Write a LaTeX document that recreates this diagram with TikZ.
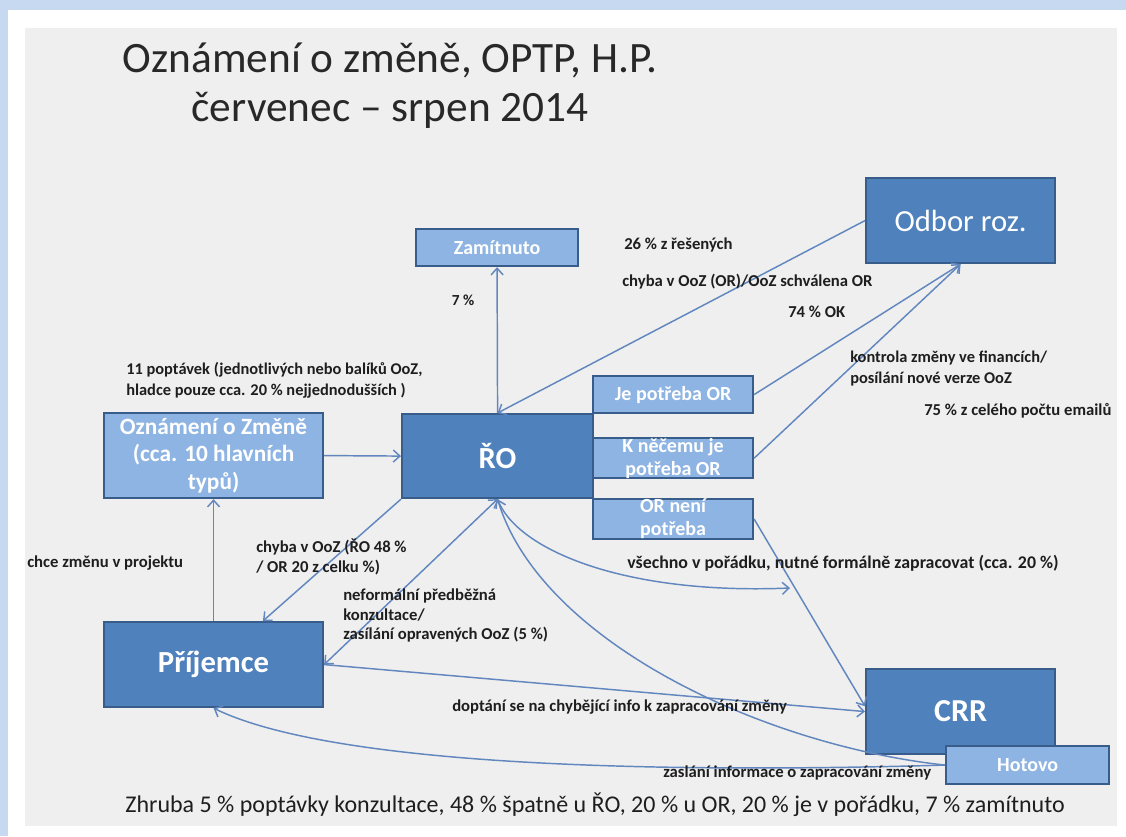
\documentclass[tikz,border=0pt]{standalone}
\usepackage{fontspec}
\setmainfont{Carlito}
\usetikzlibrary{arrows.meta}
\definecolor{bandblue}{RGB}{198,217,241}
\definecolor{panelgray}{RGB}{239,239,239}
\definecolor{darkfill}{RGB}{79,129,189}
\definecolor{lightfill}{RGB}{141,180,226}
\definecolor{boxborder}{RGB}{56,93,138}
\definecolor{linkblue}{RGB}{98,135,190}
\definecolor{inktext}{RGB}{30,30,30}
\definecolor{titletext}{RGB}{40,40,40}
\tikzset{
  boxsize/.style 2 args={minimum width=#1*0.75pt, minimum height=#2*0.75pt},
  bigbox/.style={draw=boxborder, line width=1.6pt, fill=darkfill, text=white,
    inner sep=0pt, anchor=north west, align=center},
  smallbox/.style={draw=boxborder, line width=1.6pt, fill=lightfill, text=white,
    inner sep=0pt, anchor=north west, align=center, font=\bfseries\fontsize{15}{17.3}\selectfont},
  link/.style={draw=linkblue, line width=1.1pt, -{Straight Barb[length=5pt,width=9pt]}},
  twolink/.style={draw=linkblue, line width=1.1pt, {Straight Barb[length=5pt,width=9pt]}-{Straight Barb[length=5pt,width=9pt]}},
  note/.style={text=inktext, inner sep=0pt, anchor=west, font=\bfseries\fontsize{12.5}{15}\selectfont},
  notes/.style={text=inktext, inner sep=0pt, anchor=north west, align=left, font=\bfseries\fontsize{12.5}{15}\selectfont},
}
\begin{document}
\begin{tikzpicture}[x=0.75pt, y=-0.75pt]
  % page, slide and grey panel
  \useasboundingbox (0,0) rectangle (1126,836);
  \fill[white] (0,0) rectangle (1126,836);
  \fill[bandblue] (0,0) rectangle (1126,10);
  \fill[bandblue] (0,0) rectangle (8,836);
  \fill[panelgray] (25,28) rectangle (1117,826);

  % title
  \node[text=titletext, align=center, font=\fontsize{32.5}{37}\selectfont] (title) at (390,86)
    {Oznámení o změně, OPTP, H.P.\\červenec -- srpen 2014};

  % boxes
  \node[smallbox, boxsize={162}{37}] (zam) at (415,228) {Zamítnuto};
  \node[bigbox, boxsize={189}{85}, font=\fontsize{23}{27}\selectfont] (odbor) at (865,177) {Odbor roz.};
  \node[smallbox, boxsize={219}{85}, font=\bfseries\fontsize{17.5}{20.6}\selectfont] (ozn) at (103,412)
    {Oznámení o Změně\\(cca. 10 hlavních\\typů)};
  \node[bigbox, boxsize={191}{84}, font=\bfseries\fontsize{23}{27}\selectfont] (ro) at (401,413) {ŘO};
  \node[smallbox, boxsize={160}{37}] (je) at (592,375) {Je potřeba OR};
  \node[smallbox, boxsize={160}{37}] (kn) at (592,437) {K něčemu je\\potřeba OR};
  \node[smallbox, boxsize={160}{37}] (orn) at (592,498) {OR není\\potřeba};
  \node[bigbox, boxsize={219}{85}, font=\bfseries\fontsize{23}{27}\selectfont] (pri) at (103,621) {Příjemce};
  \node[bigbox, boxsize={189}{85}, font=\bfseries\fontsize{24}{28}\selectfont] (crr) at (865,668) {CRR};
  \node[smallbox, boxsize={163}{38}] (hot) at (945,745) {Hotovo};

  % free ends of the connectors
  \coordinate (okend) at (790,588);

  % connectors
  \draw[link] (ro.north) -- (zam.south);
  \draw[link] (odbor.west) -- (ro.north);
  \draw[link] (je.east) -- (odbor.south);
  \draw[link] (kn.east) -- (odbor.south);
  \draw[link] (ozn.east) -- (ro.west);
  \draw[link] (pri.north) -- (ozn.south);
  \draw[link] (ro.south west) -- ([xshift=37pt]pri.north);
  \draw[twolink] (pri.east) -- (ro.south);
  \draw[link] (pri.east) -- (crr.west);
  \draw[link] (orn.east) -- ([yshift=4pt]crr.west);
  \draw[link] (ro.south) .. controls (515,548) and (620,595) .. (okend);
  \draw[link] (hot.west) .. controls (760,745) and (540,640) .. (ro.south);
  \draw[link] (hot.west) .. controls (600,775) and (320,760) .. (pri.south);

  % labels
  \node[note, anchor=center, font=\bfseries\fontsize{11.5}{14}\selectfont] (l7) at (463,300) {7 \%};
  \node[note] (l26) at (624,245) {26 \% z řešených};
  \node[note] (lchor) at (622,282) {chyba v OoZ (OR)/OoZ schválena OR};
  \node[note] (l74) at (788,312) {74 \% OK};
  \node[notes, font=\bfseries\fontsize{12.3}{15.5}\selectfont] (lkon) at (850,351)
    {kontrola změny ve financích/\\posílání nové verze OoZ};
  \node[note] (l75) at (924,411) {75 \% z celého počtu emailů};
  \node[notes, font=\bfseries\fontsize{12.3}{15.5}\selectfont] (l11) at (126,362)
    {11 poptávek (jednotlivých nebo balíků OoZ,\\hladce pouze cca. 20 \% nejjednodušších )};
  \node[note] (lchce) at (27,563) {chce změnu v projektu};
  \node[notes] (lchro) at (256,539) {chyba v OoZ (ŘO 48 \%\\/ OR 20 z celku \%)};
  \node[notes, font=\bfseries\fontsize{12.5}{14.6}\selectfont] (lnef) at (343,589)
    {neformální předběžná\\konzultace/\\zasílání opravených OoZ (5 \%)};
  \node[note, font=\bfseries\fontsize{13.4}{15}\selectfont] (lvse) at (627,563)
    {všechno v pořádku, nutné formálně zapracovat (cca. 20 \%)};
  \node[note] (ldop) at (452,707) {doptání se na chybějící info k zapracování změny};
  \node[note] (lzas) at (663,773) {zaslání informace o zapracování změny};
  \node[text=inktext, font=\fontsize{18}{21}\selectfont, inner sep=0pt] (sum) at (595,805)
    {Zhruba 5 \% poptávky konzultace, 48 \% špatně u ŘO, 20 \% u OR, 20 \% je v pořádku, 7 \% zamítnuto};
\end{tikzpicture}
\end{document}
